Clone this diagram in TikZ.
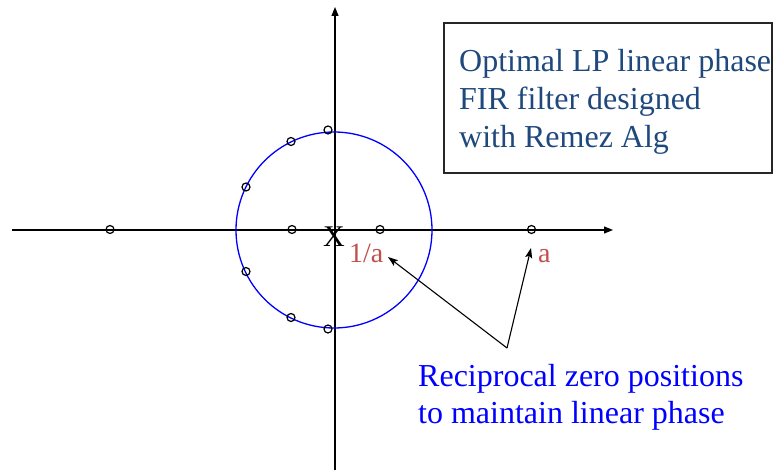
\documentclass[tikz,border=0pt]{standalone}
\usepackage{fontspec}
\setmainfont{Liberation Serif}
\usetikzlibrary{arrows.meta}
\definecolor{boxtext}{HTML}{1F497D}
\definecolor{lblred}{HTML}{C0504D}
\definecolor{noteblue}{HTML}{0000FF}
\tikzset{
  zero/.style={circle,draw=black,line width=1.2pt,minimum size=8pt,inner sep=0pt},
  axisline/.style={line width=1.2pt,-{Triangle[length=9pt,width=7pt]}},
  pointer/.style={line width=1.1pt,-{Stealth[length=10pt,width=7pt,inset=2pt]}},
  bigtext/.style={inner sep=0pt,anchor=base west,font=\fontsize{32}{38}\selectfont},
  lbl/.style={inner sep=0pt,anchor=base west,font=\fontsize{28}{34}\selectfont,text=lblred}
}
\begin{document}
\begin{tikzpicture}[x=1pt,y=-1pt]
\useasboundingbox (0,0) rectangle (774,470);
% axes
\coordinate (xl) at (12,230);
\coordinate (xr) at (613,230);
\coordinate (yb) at (335,470);
\coordinate (yt) at (335,7);
\draw[axisline] (xl) -- (xr);
\draw[axisline] (yb) -- (yt);
% unit circle
\node[circle,draw=noteblue,line width=1.3pt,minimum size=196pt,inner sep=0pt] (uc) at (334,230) {};
% zeros
\node[zero] (z1) at (328,130) {};
\node[zero] (z2) at (291,141.5) {};
\node[zero] (z3) at (246,187) {};
\node[zero] (z4) at (292,229.5) {};
\node[zero] (z5) at (380,229.5) {};
\node[zero] (z6) at (246,271.5) {};
\node[zero] (z7) at (291,317.5) {};
\node[zero] (z8) at (328,329) {};
\node[zero] (z9) at (110,229.5) {};
\node[zero] (z10) at (531.5,229.5) {};
% pole
\node[inner sep=0pt,anchor=base,font=\fontsize{30}{36}\selectfont] (pole) at (334,247) {X};
% labels
\node[lbl] (inv) at (349,263) {1/a};
\node[lbl] (lbla) at (538,263) {a};
% box
\node[draw=black!85,line width=1.3pt,minimum width=328pt,minimum height=150pt,inner sep=0pt] (box) at (608,98) {};
\node[bigtext,text=boxtext] (b1) at (459,72) {Optimal LP linear phase};
\node[bigtext,text=boxtext] (b2) at (459,110) {FIR filter designed};
\node[bigtext,text=boxtext] (b3) at (459,148) {with Remez Alg};
% note
\node[bigtext,text=noteblue] (n1) at (418,387) {Reciprocal zero positions};
\node[bigtext,text=noteblue] (n2) at (418,423) {to maintain linear phase};
% pointers
\coordinate (apex) at (507,348);
\coordinate (tipinv) at (388,257);
\coordinate (tipa) at (531,248);
\draw[pointer] (apex) -- (tipinv);
\draw[pointer] (apex) -- (tipa);
\end{tikzpicture}
\end{document}
